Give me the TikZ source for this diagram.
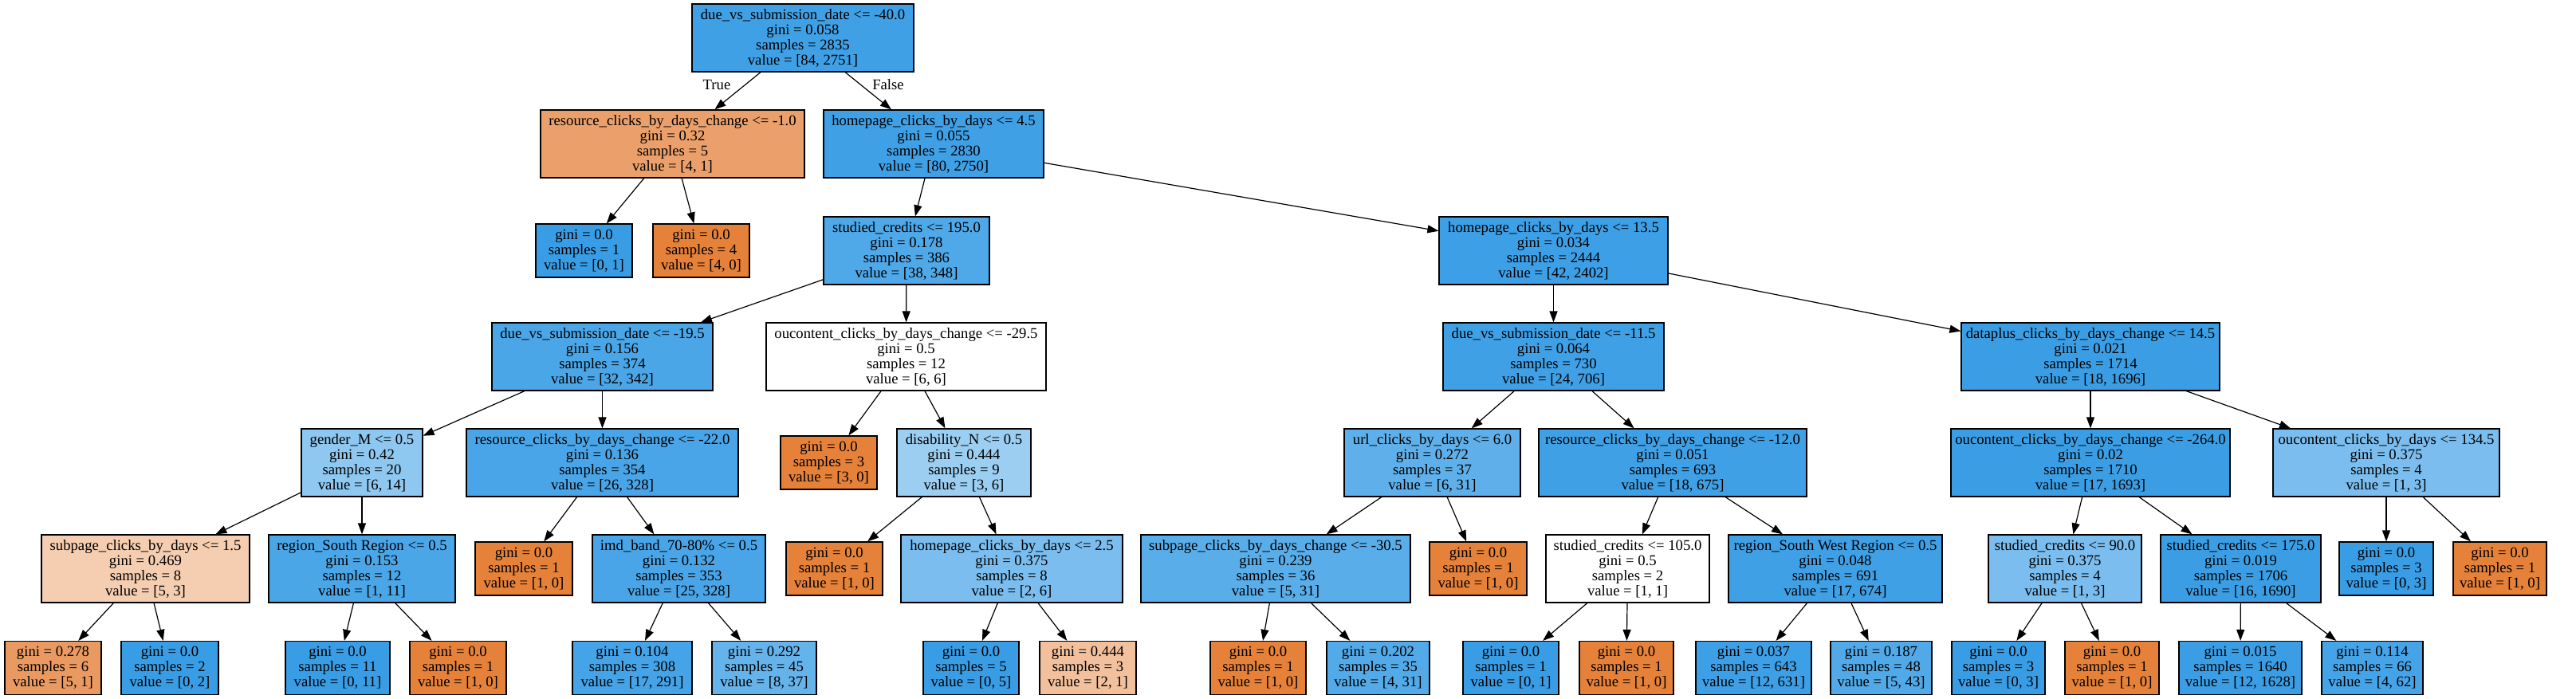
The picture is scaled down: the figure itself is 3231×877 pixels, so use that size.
\documentclass[tikz,border=0pt]{standalone}
\usepackage{fontspec}
\setmainfont{Liberation Serif}
\usepackage{tikz}
\usetikzlibrary{arrows.meta}
\definecolor{cblue}{RGB}{57,157,229}
\definecolor{corange}{RGB}{229,129,57}

\tikzset{
  splitbox/.style={draw=black, line width=1.2pt, inner sep=0pt, align=center,
    minimum height=85pt, font=\fontsize{18.7pt}{19pt}\selectfont},
  leafbox/.style={splitbox, minimum height=67pt},
  treelink/.style={line width=1.2pt, -{Triangle[length=14pt, width=10pt]}},
  elabel/.style={font=\fontsize{18.7pt}{19pt}\selectfont, inner sep=0pt}
}

\begin{document}
\begin{tikzpicture}[x=1pt, y=-1pt]

  \fill[white] (0,0) rectangle (3231,877);
  \useasboundingbox (0,0) rectangle (3231,877);

  %% Level 0
  \node[splitbox, fill=cblue!97!white, minimum width=278pt] (root) at (1007,47.5)
    {due\_vs\_submission\_date <= -40.0\\gini = 0.058\\samples = 2835\\value = [84, 2751]};

  %% Level 1
  \node[splitbox, fill=corange!75!white, minimum width=331pt] (rcA) at (843.5,180.5)
    {resource\_clicks\_by\_days\_change <= -1.0\\gini = 0.32\\samples = 5\\value = [4, 1]};
  \node[splitbox, fill=cblue!97!white, minimum width=276pt] (hpA) at (1171,180.5)
    {homepage\_clicks\_by\_days <= 4.5\\gini = 0.055\\samples = 2830\\value = [80, 2750]};

  %% Level 2
  \node[splitbox, fill=cblue!89!white, minimum width=208pt] (scA) at (1137,314.5)
    {studied\_credits <= 195.0\\gini = 0.178\\samples = 386\\value = [38, 348]};
  \node[splitbox, fill=cblue!98!white, minimum width=287pt] (hpB) at (1948.5,314.5)
    {homepage\_clicks\_by\_days <= 13.5\\gini = 0.034\\samples = 2444\\value = [42, 2402]};

  %% Level 3
  \node[splitbox, fill=cblue!91!white, minimum width=277pt] (dvB) at (755.5,447.5)
    {due\_vs\_submission\_date <= -19.5\\gini = 0.156\\samples = 374\\value = [32, 342]};
  \node[splitbox, fill=white, minimum width=351pt] (ouA) at (1136.5,447.5)
    {oucontent\_clicks\_by\_days\_change <= -29.5\\gini = 0.5\\samples = 12\\value = [6, 6]};
  \node[splitbox, fill=cblue!97!white, minimum width=277pt] (dvC) at (1948.5,447.5)
    {due\_vs\_submission\_date <= -11.5\\gini = 0.064\\samples = 730\\value = [24, 706]};
  \node[splitbox, fill=cblue!99!white, minimum width=324pt] (dpA) at (2622,447.5)
    {dataplus\_clicks\_by\_days\_change <= 14.5\\gini = 0.021\\samples = 1714\\value = [18, 1696]};

  %% Level 4
  \node[splitbox, fill=cblue!57!white, minimum width=152pt] (gnA) at (454,580.5)
    {gender\_M <= 0.5\\gini = 0.42\\samples = 20\\value = [6, 14]};
  \node[splitbox, fill=cblue!92!white, minimum width=341pt] (rcB) at (755.5,580.5)
    {resource\_clicks\_by\_days\_change <= -22.0\\gini = 0.136\\samples = 354\\value = [26, 328]};
  \node[splitbox, fill=cblue!50!white, minimum width=168pt] (dsA) at (1209,580.5)
    {disability\_N <= 0.5\\gini = 0.444\\samples = 9\\value = [3, 6]};
  \node[splitbox, fill=cblue!81!white, minimum width=221pt] (urA) at (1796.5,580.5)
    {url\_clicks\_by\_days <= 6.0\\gini = 0.272\\samples = 37\\value = [6, 31]};
  \node[splitbox, fill=cblue!97!white, minimum width=336pt] (rcC) at (2098,580.5)
    {resource\_clicks\_by\_days\_change <= -12.0\\gini = 0.051\\samples = 693\\value = [18, 675]};
  \node[splitbox, fill=cblue!99!white, minimum width=350pt] (ouB) at (2622,580.5)
    {oucontent\_clicks\_by\_days\_change <= -264.0\\gini = 0.02\\samples = 1710\\value = [17, 1693]};
  \node[splitbox, fill=cblue!67!white, minimum width=284pt] (ouC) at (2993,580.5)
    {oucontent\_clicks\_by\_days <= 134.5\\gini = 0.375\\samples = 4\\value = [1, 3]};

  %% Level 5
  \node[splitbox, fill=corange!40!white, minimum width=261pt] (sbA) at (182.5,713.5)
    {subpage\_clicks\_by\_days <= 1.5\\gini = 0.469\\samples = 8\\value = [5, 3]};
  \node[splitbox, fill=cblue!91!white, minimum width=234pt] (rgA) at (454,713.5)
    {region\_South Region <= 0.5\\gini = 0.153\\samples = 12\\value = [1, 11]};
  \node[splitbox, fill=cblue!92!white, minimum width=217pt] (imA) at (851.5,713.5)
    {imd\_band\_70-80\% <= 0.5\\gini = 0.132\\samples = 353\\value = [25, 328]};
  \node[splitbox, fill=cblue!67!white, minimum width=278pt] (hpC) at (1269,713.5)
    {homepage\_clicks\_by\_days <= 2.5\\gini = 0.375\\samples = 8\\value = [2, 6]};
  \node[splitbox, fill=cblue!84!white, minimum width=338pt] (sbB) at (1600,713.5)
    {subpage\_clicks\_by\_days\_change <= -30.5\\gini = 0.239\\samples = 36\\value = [5, 31]};
  \node[splitbox, fill=white, minimum width=205pt] (scB) at (2041.5,713.5)
    {studied\_credits <= 105.0\\gini = 0.5\\samples = 2\\value = [1, 1]};
  \node[splitbox, fill=cblue!97!white, minimum width=268pt] (rgB) at (2302,713.5)
    {region\_South West Region <= 0.5\\gini = 0.048\\samples = 691\\value = [17, 674]};
  \node[splitbox, fill=cblue!67!white, minimum width=192pt] (scC) at (2590,713.5)
    {studied\_credits <= 90.0\\gini = 0.375\\samples = 4\\value = [1, 3]};
  \node[splitbox, fill=cblue!99!white, minimum width=201pt] (scD) at (2810.5,713.5)
    {studied\_credits <= 175.0\\gini = 0.019\\samples = 1706\\value = [16, 1690]};

  %% Leaves
  \foreach \nm/\x/\y/\w/\fc/\gi/\sa/\va in {
    lfA1/732.5/314.5/121/cblue/0.0/1/{[0, 1]},
    lfA2/879.5/314.5/121/corange/0.0/4/{[4, 0]},
    lfB1/1039.5/580.5/121/corange/0.0/3/{[3, 0]},
    lfC1/657/713.5/122/corange/0.0/1/{[1, 0]},
    lfC2/1046.5/713.5/121/corange/0.0/1/{[1, 0]},
    lfC3/1854/713.5/122/corange/0.0/1/{[1, 0]},
    lfC4/2993/713.5/118/cblue/0.0/3/{[0, 3]},
    lfC5/3135.5/713.5/117/corange/0.0/1/{[1, 0]},
    lfD1/66.5/838/121/corange!80!white/0.278/6/{[5, 1]},
    lfD2/213/838/122/cblue/0.0/2/{[0, 2]},
    lfD3/423.5/838/131/cblue/0.0/11/{[0, 11]},
    lfD4/574.5/838/121/corange/0.0/1/{[1, 0]},
    lfD5/793/838/150/cblue!94!white/0.104/308/{[17, 291]},
    lfD6/958.5/838/131/cblue!78!white/0.292/45/{[8, 37]},
    lfD7/1218/838/120/cblue/0.0/5/{[0, 5]},
    lfD8/1364.5/838/121/corange!50!white/0.444/3/{[2, 1]},
    lfD9/1578/838/120/corange/0.0/1/{[1, 0]},
    lfD10/1728.5/838/129/cblue!87!white/0.202/35/{[4, 31]},
    lfD11/1895/838/120/cblue/0.0/1/{[0, 1]},
    lfD12/2040/838/118/corange/0.0/1/{[1, 0]},
    lfD13/2199.5/838/145/cblue!98!white/0.037/643/{[12, 631]},
    lfD14/2359.5/838/127/cblue!88!white/0.187/48/{[5, 43]},
    lfD15/2506.5/838/117/cblue/0.0/3/{[0, 3]},
    lfD16/2649/838/118/corange/0.0/1/{[1, 0]},
    lfD17/2810/838/154/cblue!99!white/0.015/1640/{[12, 1628]},
    lfD18/2975.5/838/127/cblue!94!white/0.114/66/{[4, 62]}
  }{
    \node[leafbox, fill=\fc, minimum width=\w pt] (\nm) at (\x,\y)
      {gini = \gi\\samples = \sa\\value = \va};
  }

  %% Edges
  \foreach \a/\b in {root/rcA, root/hpA, rcA/lfA1, rcA/lfA2, hpA/scA, hpA/hpB,
    scA/dvB, scA/ouA, hpB/dvC, hpB/dpA, dvB/gnA, dvB/rcB, ouA/lfB1, ouA/dsA,
    dvC/urA, dvC/rcC, dpA/ouB, dpA/ouC, gnA/sbA, gnA/rgA, rcB/lfC1, rcB/imA,
    dsA/lfC2, dsA/hpC, urA/sbB, urA/lfC3, rcC/scB, rcC/rgB, ouB/scC, ouB/scD,
    ouC/lfC4, ouC/lfC5, sbA/lfD1, sbA/lfD2, rgA/lfD3, rgA/lfD4, imA/lfD5, imA/lfD6,
    hpC/lfD7, hpC/lfD8, sbB/lfD9, sbB/lfD10, scB/lfD11, scB/lfD12, rgB/lfD13,
    rgB/lfD14, scC/lfD15, scC/lfD16, scD/lfD17, scD/lfD18}{
    \draw[treelink] (\a) -- (\b);
  }

  %% True / False
  \node[elabel] (lbltrue) at (899,106) {True};
  \node[elabel] (lblfalse) at (1114,106) {False};

\end{tikzpicture}
\end{document}
